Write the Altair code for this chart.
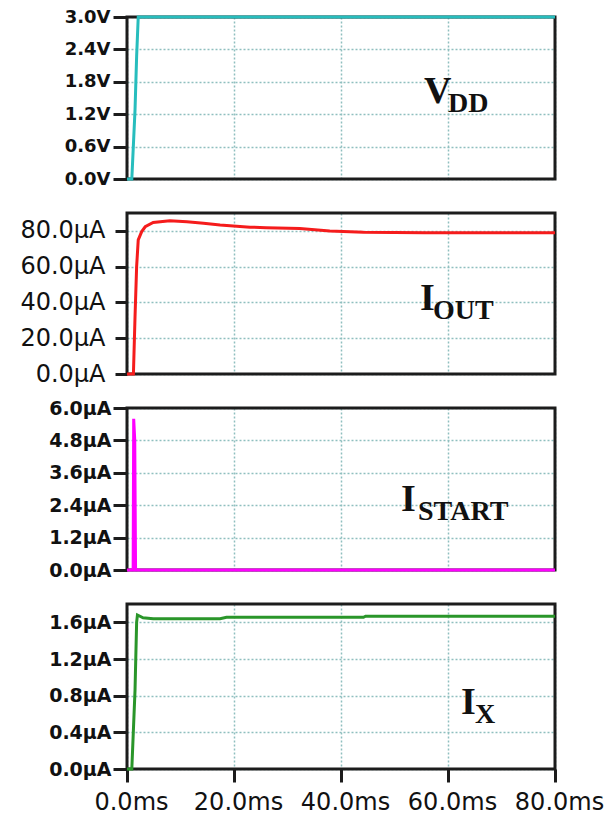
import altair as alt
import pandas as pd

# ---- transient traces (time in ms) ----
vdd_t = [0.0, 0.9, 1.5, 1.8, 2.1, 80.0]
vdd_v = [0.0, 0.0, 1.28, 2.27, 3.0, 3.0]

iout_t = [0.0, 1.2, 1.5, 1.8, 2.1, 2.75, 3.4, 4.9, 8.0, 11.2, 14.3, 17.4,
          20.5, 23.0, 26.0, 32.3, 37.9, 44.2, 55.7, 80.0]
iout_v = [0.0, 0.0, 32.0, 60.0, 75.0, 79.6, 82.3, 84.7, 85.6, 85.1, 84.3, 83.3,
          82.6, 82.1, 81.8, 81.3, 80.0, 79.2, 78.9, 78.9]

istart_t = [0.0, 1.15, 1.25, 1.45, 1.6, 80.0]
istart_v = [0.0, 0.0, 5.6, 4.8, 0.0, 0.0]

ix_t = [0.0, 0.9, 1.5, 1.8, 1.95, 3.0, 4.9, 17.4, 18.6, 44.2, 44.6, 80.0]
ix_v = [0.0, 0.0, 0.86, 1.6, 1.68, 1.65, 1.64, 1.64, 1.655, 1.655, 1.667, 1.667]

# ---- axis ticks ----
time_ticks = [0, 20, 40, 60, 80]
vdd_ticks = [0.0, 0.6, 1.2, 1.8, 2.4, 3.0]
iout_ticks = [0, 20, 40, 60, 80]
istart_ticks = [0.0, 1.2, 2.4, 3.6, 4.8, 6.0]
ix_ticks = [0.0, 0.4, 0.8, 1.2, 1.6]

# ---- panel names (main letter, subscript) ----
names = [("V", "DD"), ("I", "OUT"), ("I", "START"), ("I", "X")]

W = 428
GRID = "#8fbfbf"
INK = "#1c1c1c"


def panel(t, v, color, domain, ticks, suffix, height, name, name_xy,
          lab_font, lab_size, lab_weight, lab_pad, tick_size, bottom=False):
    df = pd.DataFrame({"t": t, "v": v})
    if bottom:
        x_axis = alt.Axis(values=time_ticks, title=None, domain=False,
                          grid=True, gridColor=GRID, gridDash=[2, 2], gridWidth=1.5,
                          ticks=True, tickSize=13, tickWidth=3, tickColor=INK,
                          labelExpr="format(datum.value, '.1f') + 'ms'",
                          labelFont="DejaVu Sans", labelFontSize=24,
                          labelColor="#111111", labelPadding=8, labelOffset=4,
                          labelFlush=False, labelOverlap=False)
    else:
        x_axis = alt.Axis(values=time_ticks, title=None, domain=False,
                          grid=True, gridColor=GRID, gridDash=[2, 2], gridWidth=1.5,
                          ticks=False, labels=False)
    y_axis = alt.Axis(values=ticks, title=None, domain=False,
                      grid=True, gridColor=GRID, gridDash=[2, 2], gridWidth=1.5,
                      tickSize=tick_size, tickWidth=3, tickColor=INK,
                      labelExpr="format(datum.value, '.1f') + '" + suffix + "'",
                      labelFont=lab_font, labelFontSize=lab_size,
                      labelFontWeight=lab_weight, labelColor="#111111",
                      labelPadding=lab_pad, labelFlush=False, labelOverlap=False)

    line = alt.Chart(df).mark_line(color=color, strokeWidth=3, clip=False).encode(
        x=alt.X("t:Q", scale=alt.Scale(domain=[0, 80], nice=False), axis=x_axis),
        y=alt.Y("v:Q", scale=alt.Scale(domain=domain, nice=False), axis=y_axis),
    )
    border = alt.Chart(alt.Data(values=[{}])).mark_rect(
        filled=False, stroke=INK, strokeWidth=3
    ).encode(x=alt.value(0), x2=alt.value(W), y=alt.value(0), y2=alt.value(height))

    (mx, my), (sx, sy) = name_xy
    main = alt.Chart(alt.Data(values=[{}])).mark_text(
        text=name[0], font="Liberation Serif", fontWeight="bold", fontSize=38,
        align="left", baseline="alphabetic", color="#111111"
    ).encode(x=alt.value(mx), y=alt.value(my))
    sub = alt.Chart(alt.Data(values=[{}])).mark_text(
        text=name[1], font="Liberation Serif", fontWeight="bold", fontSize=28,
        align="left", baseline="alphabetic", color="#111111"
    ).encode(x=alt.value(sx), y=alt.value(sy))

    return alt.layer(border, line, main, sub).properties(width=W, height=height)


p1 = panel(vdd_t, vdd_v, "#27bdbd", [0, 3.0], vdd_ticks, "V", 162, names[0],
           ((297, 86), (321, 95)), "DejaVu Sans", 18, "bold", 3, 14)
p2 = panel(iout_t, iout_v, "#f51c1c", [0, 90], iout_ticks, "µA", 161, names[1],
           ((293, 97), (306, 106)), "DejaVu Sans", 24, "normal", 10, 12)
p3 = panel(istart_t, istart_v, "#ff00ff", [0, 6.0], istart_ticks, "µA", 162, names[2],
           ((274, 103), (291, 112)), "DejaVu Sans", 19, "bold", 2, 14)
p4 = panel(ix_t, ix_v, "#2a962a", [0, 1.8], ix_ticks, "µA", 165, names[3],
           ((334, 110), (348, 119)), "DejaVu Sans", 19, "bold", 2, 14, bottom=True)

chart = alt.vconcat(p1, p2, p3, p4, spacing=34, bounds="flush").properties(
    padding={"left": 19, "top": 8, "right": 0, "bottom": 0},
).configure_view(strokeWidth=0)

chart.save("out.html", embed_options={"renderer": "svg", "actions": False})
